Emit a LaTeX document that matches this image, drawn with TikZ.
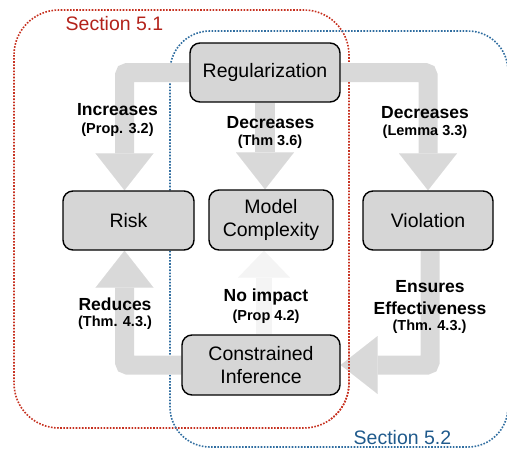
\documentclass[tikz,border=0pt]{standalone}
\usepackage{fontspec}
\setmainfont{Liberation Sans}
\usetikzlibrary{arrows.meta,calc}
\pgfdeclarelayer{back}
\pgfdeclarelayer{mid}
\pgfsetlayers{back,mid,main}
\definecolor{boxgray}{HTML}{D6D6D6}
\definecolor{arrgray}{HTML}{D9D9D9}
\definecolor{faint}{HTML}{F4F4F4}
\definecolor{secred}{HTML}{C6301F}
\definecolor{secredtxt}{HTML}{B3221A}
\definecolor{secblue}{HTML}{2F6DA0}
\definecolor{secbluetxt}{HTML}{1F5A8C}
\begin{document}
\begin{tikzpicture}[x=1pt,y=-1pt,
  box/.style={draw=black, line width=1.4pt, fill=boxgray, rounded corners=10pt,
    font=\fontsize{19.5}{23.5}\selectfont, align=center, inner sep=0pt},
  lbl/.style={font=\bfseries\fontsize{17.5}{21}\selectfont, inner sep=0pt},
  sublbl/.style={font=\bfseries\fontsize{14.5}{17}\selectfont, inner sep=0pt},
  seclbl/.style={font=\fontsize{19.5}{22}\selectfont, inner sep=0pt},
  bigarrow/.style={draw=arrgray, line width=19pt, rounded corners=3pt,
    -{Triangle[width=58pt,length=37pt,line width=0.01pt]}},
  region/.style={line width=1.6pt, dash pattern=on 1.6pt off 1.5pt, rounded corners=#1},
]
\useasboundingbox (0,0) rectangle (507,448);

% boxes
\node[box, minimum width=150pt, minimum height=59pt] (reg) at (265,72.5) {Regularization};
\node[box, minimum width=131pt, minimum height=59pt] (risk) at (128.5,220.5) {Risk};
\node[box, minimum width=124pt, minimum height=60pt] (mc) at (271,220) {Model\\Complexity};
\node[box, minimum width=130pt, minimum height=59pt] (viol) at (428,220.5) {Violation};
\node[box, minimum width=158pt, minimum height=60pt] (ci) at (261,365) {Constrained\\Inference};

% section regions
\begin{pgfonlayer}{back}
\draw[region=45pt, draw=secred] (14,10) rectangle (349,428);
\draw[region=40pt, draw=secblue] (170,31) rectangle (508,447);
\end{pgfonlayer}

% block arrows
\begin{pgfonlayer}{mid}
\draw[bigarrow] (reg.west) -| ([xshift=-4pt]risk.north);
\draw[bigarrow, line width=20pt] (reg.south) -- (reg.south |- mc.north);
\draw[bigarrow] (reg.east) -| (viol.north);
\draw[bigarrow] ([xshift=2pt]viol.south) |- (ci.east);
\draw[bigarrow] (ci.west) -| ([xshift=-4pt]risk.south);
\draw[bigarrow, draw=faint, line width=16pt,
  -{Triangle[width=52pt,length=27pt,line width=0.01pt]}]
  ([xshift=3pt]ci.north) -- ([xshift=3pt]ci.north |- mc.south);
\begin{scope}
\clip (330,290) rectangle (380,448);
\draw[region=45pt, draw=secred] (14,10) rectangle (349,428);
\end{scope}
\end{pgfonlayer}

% labels
\node[lbl] (l1a) at (117.5,110) {Increases};
\node[sublbl] (l1b) at (117.5,130) {(Prop. 3.2)};
\node[lbl] (l2a) at (270.5,123) {Decreases};
\node[sublbl] (l2b) at (270,142) {(Thm 3.6)};
\node[lbl] (l3a) at (425,113) {Decreases};
\node[sublbl] (l3b) at (425,132) {(Lemma 3.3)};
\node[lbl] (l4a) at (115,304) {Reduces};
\node[sublbl] (l4b) at (115,323) {(Thm. 4.3.)};
\node[lbl] (l5a) at (266,297) {No impact};
\node[sublbl] (l5b) at (266,317) {(Prop 4.2)};
\node[lbl] (l6a) at (430,287) {Ensures};
\node[lbl] (l6b) at (430,308) {Effectiveness};
\node[sublbl] (l6c) at (429.5,327) {(Thm. 4.3.)};

% section labels
\node[seclbl, text=secredtxt] (s51) at (114.5,23.5) {Section 5.1};
\node[seclbl, text=secbluetxt] (s52) at (402.5,437.5) {Section 5.2};
\end{tikzpicture}
\end{document}
